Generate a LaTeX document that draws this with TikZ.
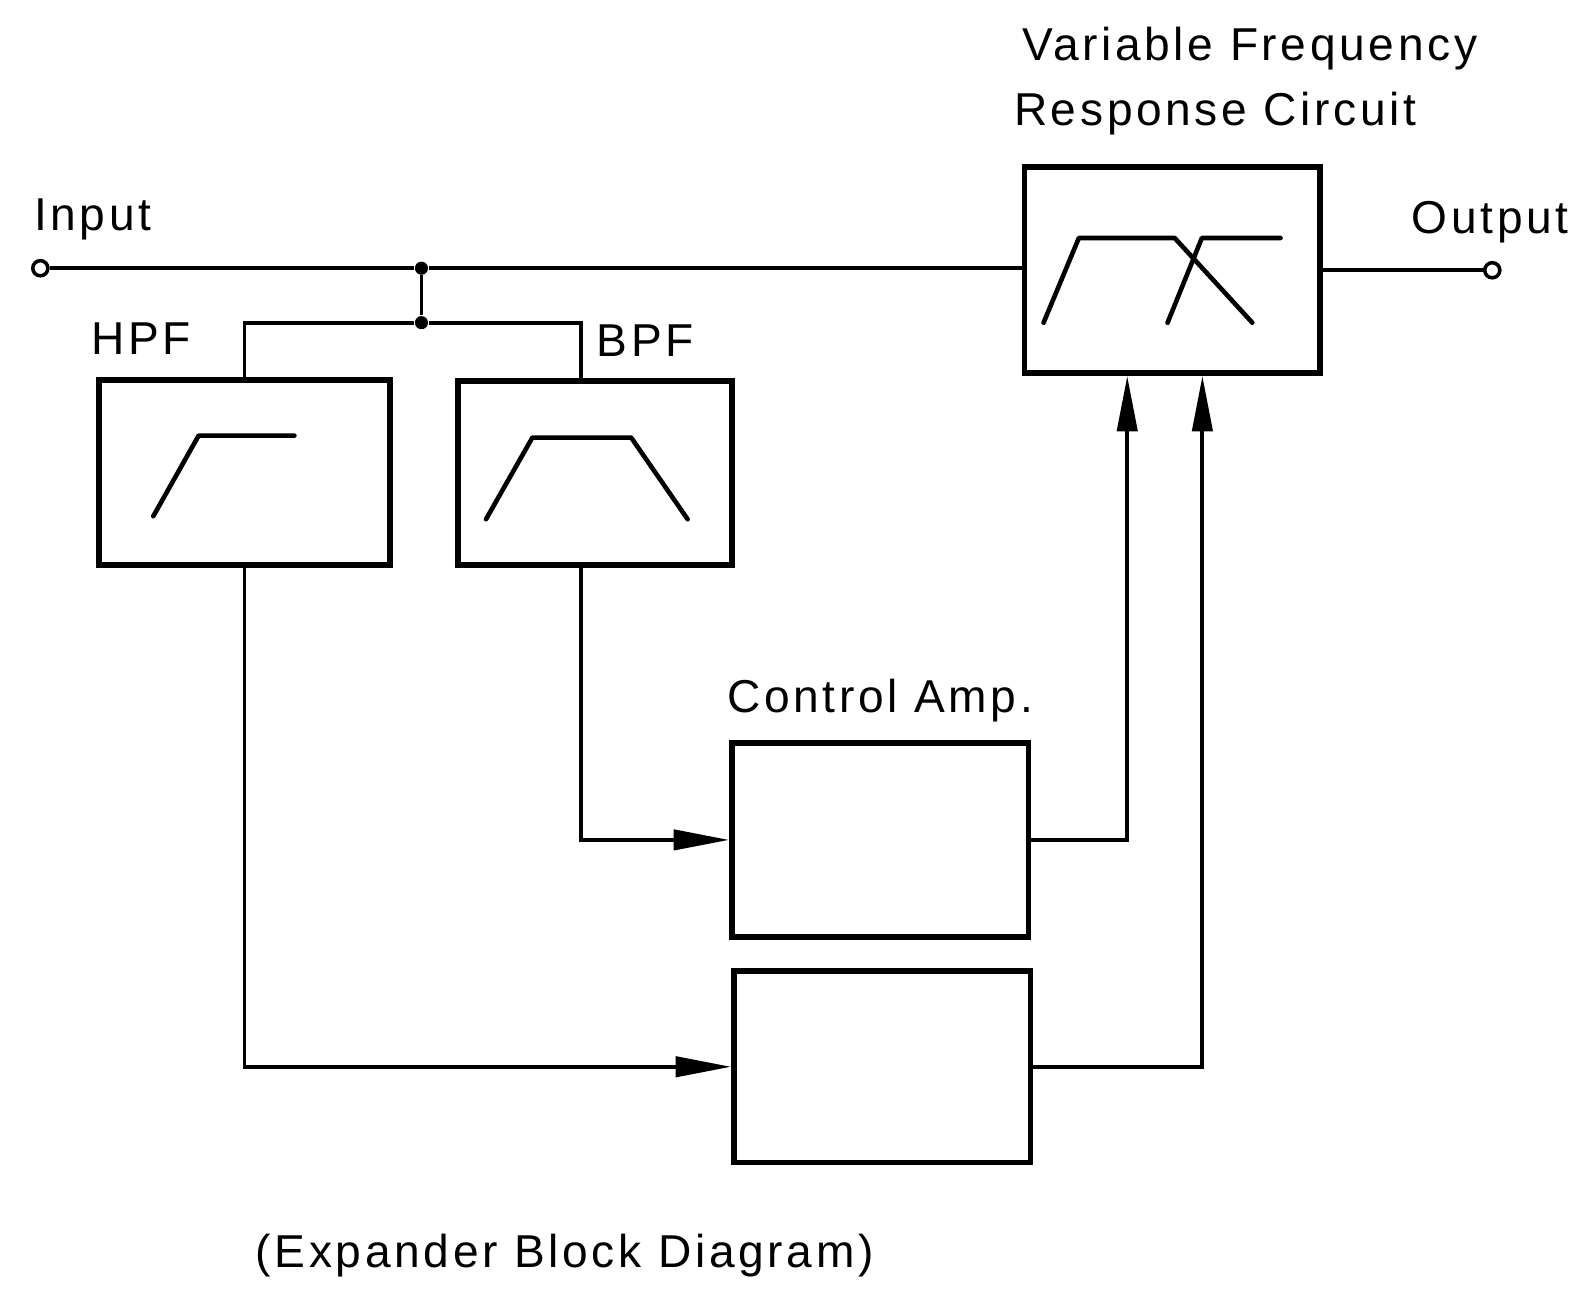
\documentclass[tikz,border=0pt]{standalone}
\usepackage{fontspec}
\setmainfont{Liberation Sans}
\newfontfamily\lblfont[LetterSpace=8]{Liberation Sans}
\usetikzlibrary{arrows.meta,positioning,calc}
\tikzset{
  block/.style={draw, line width=1.6pt, inner sep=0pt},
  lbl/.style={font=\fontsize{13}{16}\selectfont\lblfont, inner sep=0pt},
  wire/.style={line width=1.1pt},
  sig/.style={wire, -{Triangle[length=0.55cm, width=0.2cm]}},
  resp/.style={line width=1.3pt, line cap=round, line join=round},
  term/.style={circle, draw, line width=1pt, minimum size=0.15cm, inner sep=0pt},
  dot/.style={circle, fill, minimum size=0.13cm, inner sep=0pt},
}
\begin{document}
\begin{tikzpicture}[x=0.01cm, y=-0.01cm]
  \useasboundingbox (0,0) rectangle (1568,1278);
  % blocks
  \node[block, minimum width=2.89cm, minimum height=1.83cm] (hpf) at (242.5,468.5) {};
  \node[block, minimum width=2.72cm, minimum height=1.82cm] (bpf) at (590,469) {};
  \node[block, minimum width=2.93cm, minimum height=2.04cm] (vfr) at (1162.5,268) {};
  \node[block, minimum width=2.94cm, minimum height=1.92cm] (ca) at (873,833) {};
  \node[block, minimum width=2.94cm, minimum height=1.90cm] (amp) at (875,1058) {};
  % terminals and junctions
  \node[term] (in) at (40,266) {};
  \node[term] (out) at (1480,268) {};
  \node[dot] (j1) at (418,266) {};
  \node[dot] (j2) at (418,320) {};
  % labels
  \node[lbl] (inlbl) at (92,218) {Input};
  \node[lbl] (outlbl) at (1478,220) {Output};
  \node[lbl] (hpflbl) at (140,336) {HPF};
  \node[lbl] (bpflbl) at (640,338) {BPF};
  \node[lbl, above=0.17cm of ca] (calbl) {Control Amp.};
  \node[lbl, anchor=west] (vfrlbl1) at (1013,48) {Variable Frequency};
  \node[lbl, anchor=west] (vfrlbl2) at (1005,113) {Response Circuit};
  \node[lbl] (caption) at (560,1245) {(Expander Block Diagram)};
  % response curves
  \draw[resp] (152,512) -- (197,432) -- (292,432);
  \draw[resp] (482,515) -- (528,434) -- (626,434) -- (682,515);
  \draw[resp] (1035,320) -- (1070,236) -- (1165,236) -- (1242,320);
  \draw[resp] (1158,320) -- (1192,236) -- (1270,236);
  % signal path
  \draw[wire] (in) -- (j1) -- (j1 -| vfr.west);
  \draw[wire] (vfr.east |- out) -- (out);
  \draw[wire] (j1) -- (j2);
  \draw[wire] (hpf.north) |- (j2) -| ([xshift=-0.14cm]bpf.north);
  \draw[sig] ([xshift=-0.14cm]bpf.south) |- (ca.west);
  \draw[sig] (hpf.south) |- (amp.west);
  % control paths
  \draw[sig] (ca.east) -| ([xshift=-0.445cm]vfr.south);
  \draw[sig] (amp.east) -| ([xshift=0.3cm]vfr.south);
\end{tikzpicture}
\end{document}
